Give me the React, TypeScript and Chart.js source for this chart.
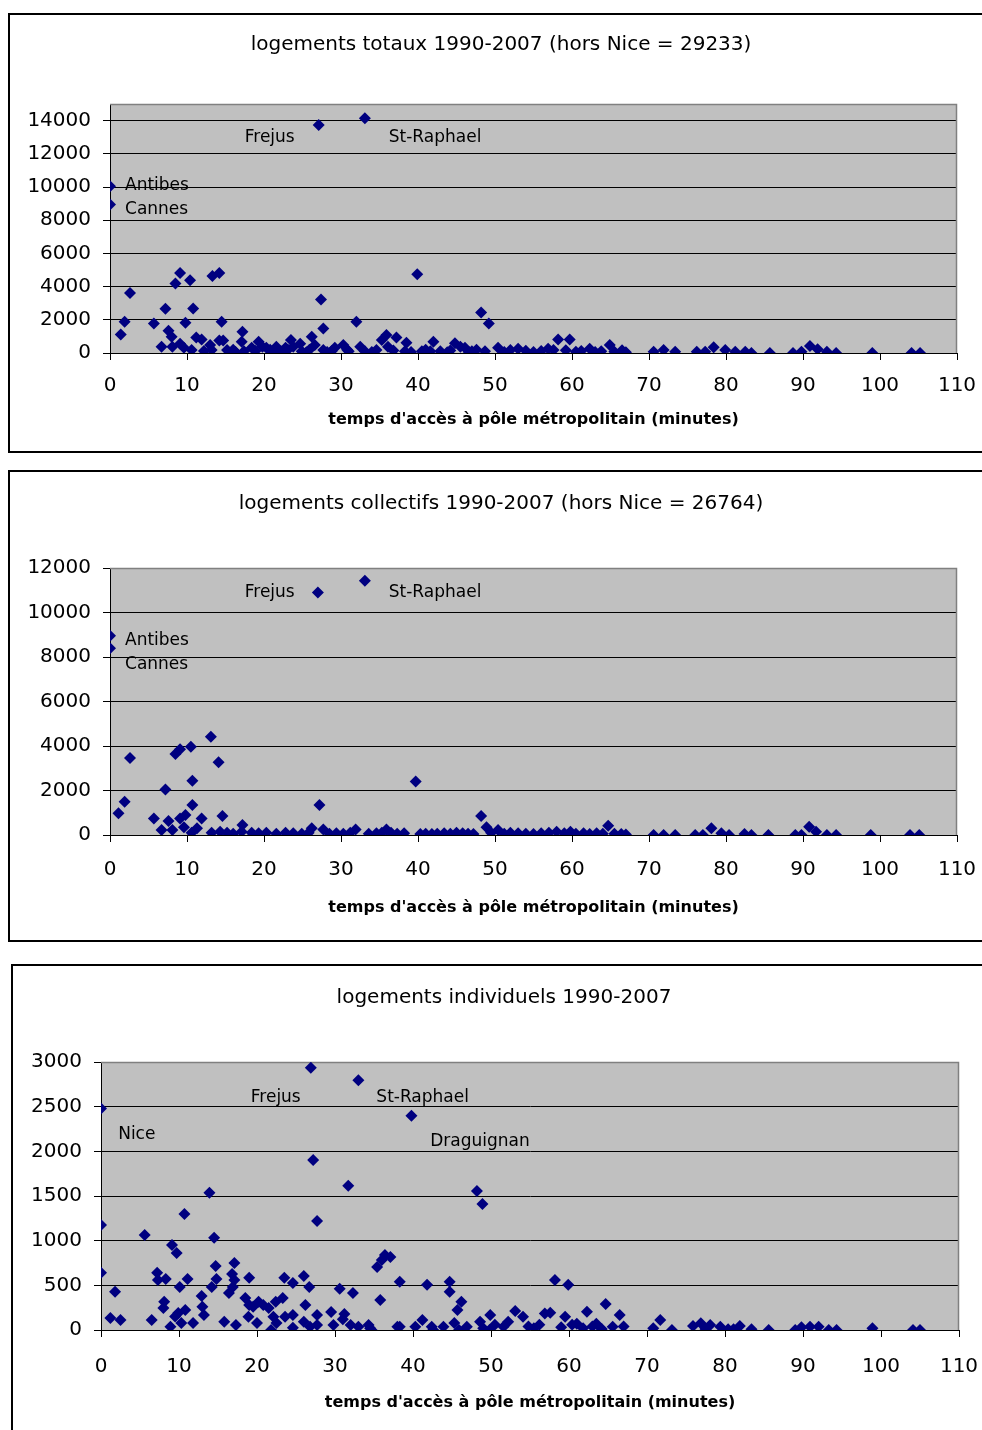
import React, { useEffect, useRef } from "react";
import { Chart, registerables } from "chart.js";

Chart.register(...registerables);

const FONT = "'DejaVu Sans', 'Liberation Sans', Arial, sans-serif";
const AXIS_TITLE = "temps d'accès à pôle métropolitain (minutes)";

// ---------- Chart 1 : logements totaux ----------
const totauxTitle = "logements totaux 1990-2007 (hors Nice = 29233)";
const totauxYTicks = [0, 2000, 4000, 6000, 8000, 10000, 12000, 14000];
const totauxX = [
  0, 0, 1.4, 1.9, 2.6, 5.7, 6.7, 7.2, 7.6, 8.0, 8.1, 8.5, 9.1, 9.1, 9.8, 9.6, 10.4, 10.6, 10.8, 11.2,
  11.9, 12.2, 13.0, 13.2, 13.3, 14.2, 14.5, 14.2, 14.7, 15.2, 16.0, 16.3, 17.2, 17.1, 17.4, 18.4, 18.9, 19.3, 19.8, 20.3,
  20.8, 21.0, 21.6, 22.2, 22.8, 23.1, 23.5, 23.8, 24.7, 24.9, 25.5, 25.9, 26.2, 26.6, 27.1, 27.4, 27.7, 27.7, 28.2, 28.8,
  29.2, 30.3, 30.8, 31.0, 32.0, 32.5, 33.1, 33.1, 34.0, 34.6, 35.3, 35.9, 36.1, 36.8, 37.2, 38.5, 38.3, 39.1, 39.9, 40.5,
  41.0, 41.6, 42.0, 42.9, 43.8, 44.2, 44.8, 45.5, 46.1, 46.6, 47.0, 47.6, 48.2, 49.2, 48.7, 50.4, 51.2, 52.0, 53.0, 54.0,
  55.0, 56.0, 56.9, 57.6, 58.2, 59.7, 59.2, 60.5, 61.2, 62.3, 63.0, 63.8, 64.9, 65.5, 66.5, 67.0, 70.6, 71.9, 73.4, 76.2,
  77.3, 78.4, 79.9, 81.2, 82.5, 83.3, 85.7, 88.7, 89.8, 90.9, 91.9, 93.1, 94.3, 99.0, 104.1, 105.2,
];
const totauxY = [
  10050, 8950, 1120, 1880, 3620, 1780, 380, 2660, 1340, 980, 380, 4180, 4820, 560, 1820, 320, 4380, 180, 2680, 940,
  820, 120, 480, 180, 4640, 4820, 1880, 760, 760, 180, 200, 60, 1280, 680, 100, 320, 120, 680, 380, 320,
  200, 60, 380, 100, 320, 200, 780, 380, 560, 100, 40, 200, 980, 480, 13740, 3220, 1480, 180, 60, 120,
  320, 480, 200, 100, 1880, 380, 14140, 100, 60, 180, 780, 1080, 380, 150, 940, 620, 100, 60, 4740, 100,
  200, 100, 680, 100, 40, 150, 580, 380, 320, 60, 100, 200, 2440, 1780, 100, 320, 60, 180, 250, 140,
  60, 120, 260, 180, 820, 820, 160, 80, 120, 260, 60, 100, 480, 80, 160, 40, 80, 180, 80, 80,
  80, 340, 180, 80, 80, 0, 0, 0, 80, 420, 230, 80, 0, 0, 0, 0,
];
const totauxLabels = ["Frejus", "St-Raphael", "Antibes", "Cannes"];
const totauxLabelX = [17.5, 36.2, 1.95, 1.95];
const totauxLabelY = [12980, 12980, 10095, 8653];

// ---------- Chart 2 : logements collectifs ----------
const collectifsTitle = "logements collectifs 1990-2007 (hors Nice = 26764)";
const collectifsYTicks = [0, 2000, 4000, 6000, 8000, 10000, 12000];
const collectifsX = [
  0, 0, 1.1, 1.9, 2.6, 5.7, 6.7, 7.2, 7.6, 8.1, 8.5, 9.1, 9.1, 9.8, 9.6, 10.5, 10.6, 10.7, 10.7, 11.3,
  11.9, 13.1, 13.2, 14.1, 14.6, 14.3, 15.2, 16.0, 17.2, 17.1, 18.4, 19.3, 20.3, 21.6, 22.8, 23.8, 24.9, 25.8, 26.2, 27.0,
  27.2, 27.7, 28.5, 29.4, 30.3, 31.2, 31.9, 33.1, 33.6, 34.6, 35.3, 35.9, 36.5, 37.3, 38.2, 39.7, 40.3, 41.0, 41.8, 42.5,
  43.4, 44.2, 45.0, 45.8, 46.5, 47.2, 48.2, 48.9, 49.5, 50.4, 51.2, 52.0, 53.0, 54.0, 55.0, 56.0, 57.0, 58.0, 59.0, 59.8,
  60.5, 61.5, 62.3, 63.2, 64.0, 64.7, 65.5, 66.4, 67.0, 70.6, 71.9, 73.4, 76.0, 77.0, 78.1, 79.4, 80.4, 82.4, 83.3, 85.5,
  89.0, 89.8, 90.8, 91.7, 93.1, 94.3, 98.8, 103.9, 105.1,
];
const collectifsY = [
  8950, 8390, 975, 1500, 3460, 740, 225, 2050, 630, 225, 3640, 3850, 740, 900, 350, 3970, 100, 2440, 1350, 300,
  740, 4420, 100, 3270, 850, 150, 100, 60, 450, 150, 100, 80, 100, 60, 100, 80, 60, 100, 300, 10900,
  1350, 250, 60, 80, 60, 100, 250, 11430, 60, 80, 100, 250, 100, 60, 80, 2400, 40, 60, 40, 60,
  80, 60, 100, 80, 60, 40, 850, 350, 100, 225, 60, 100, 80, 60, 40, 80, 100, 150, 80, 150,
  60, 80, 40, 80, 60, 420, 60, 40, 20, 0, 0, 0, 0, 0, 300, 80, 0, 50, 0, 0,
  0, 0, 375, 150, 0, 0, 0, 0, 0,
];
const collectifsLabels = ["Frejus", "St-Raphael", "Antibes", "Cannes"];
const collectifsLabelX = [17.5, 36.2, 1.95, 1.95];
const collectifsLabelY = [10875, 10875, 8718, 7640];

// ---------- Chart 3 : logements individuels ----------
const individuelsTitle = "logements individuels 1990-2007";
const individuelsYTicks = [0, 500, 1000, 1500, 2000, 2500, 3000];
const individuelsX = [
  0, 0, 0, 1.2, 1.8, 2.5, 5.6, 6.5, 7.2, 7.3, 8.3, 8.1, 8.0, 8.9, 9.1, 9.7, 10.1, 9.9, 9.5, 10.3,
  10.7, 11.1, 10.8, 11.8, 12.9, 13.0, 13.2, 13.9, 14.2, 14.5, 14.7, 14.8, 15.8, 16.4, 16.8, 17.1, 17.1, 16.9, 17.3, 18.5,
  19.0, 18.9, 19.0, 19.5, 20.0, 20.2, 20.8, 21.5, 21.8, 22.1, 22.4, 23.3, 23.5, 22.5, 23.6, 24.6, 24.6, 24.6, 26.0, 26.2,
  26.7, 26.0, 26.9, 27.2, 27.7, 27.7, 27.7, 26.8, 29.5, 29.8, 30.6, 31.2, 31.0, 31.7, 32.0, 32.3, 33.0, 33.0, 34.3, 34.5,
  34.7, 35.4, 35.8, 36.0, 36.4, 37.1, 38.0, 38.3, 38.3, 39.8, 40.3, 41.2, 41.8, 42.4, 42.6, 43.9, 44.7, 44.7, 45.3, 45.9,
  45.7, 46.2, 46.9, 48.2, 48.9, 48.6, 49.9, 49.0, 49.8, 50.5, 51.6, 52.2, 53.1, 54.1, 54.8, 55.5, 56.2, 56.9, 57.6, 58.2,
  59.9, 59.5, 59.0, 60.4, 61.0, 61.8, 62.3, 63.0, 63.5, 64.2, 64.7, 65.6, 66.5, 67.0, 70.8, 71.7, 73.2, 75.9, 76.9, 77.5,
  78.1, 79.4, 80.4, 81.1, 81.9, 83.4, 85.6, 89.0, 89.8, 90.9, 92.0, 93.3, 94.3, 98.9, 104.1, 105.0,
];
const individuelsY = [
  2480, 1175, 641, 134, 429, 112, 1063, 112, 641, 560, 570, 317, 246, 37, 951, 861, 481, 190, 150, 78,
  1298, 570, 224, 78, 380, 261, 168, 1537, 481, 1033, 716, 570, 93, 414, 627, 750, 560, 481, 56, 358,
  585, 149, 280, 261, 78, 317, 280, 246, 0, 149, 317, 358, 585, 78, 149, 525, 168, 25, 604, 280,
  481, 93, 2936, 1902, 1220, 168, 56, 37, 201, 56, 462, 179, 120, 1615, 56, 414, 2797, 37, 56, 19,
  0, 705, 336, 783, 839, 816, 37, 541, 37, 2399, 37, 112, 507, 37, 0, 37, 541, 429, 78, 0,
  224, 317, 37, 1555, 1410, 93, 168, 19, 0, 60, 37, 93, 213, 149, 40, 20, 60, 186, 194, 560,
  507, 149, 30, 60, 70, 20, 205, 40, 70, 10, 291, 37, 168, 40, 19, 112, 0, 45, 75, 10,
  56, 37, 8, 8, 45, 8, 0, 0, 30, 37, 37, 0, 0, 19, 0, 0,
];
const individuelsLabels = ["Frejus", "St-Raphael", "Nice", "Draguignan"];
const individuelsLabelX = [19.2, 35.3, 2.2, 42.2];
const individuelsLabelY = [2607, 2607, 2193, 2104];

type Spec = {
  title: string;
  titleY: number;
  xs: number[];
  ys: number[];
  yTicks: number[];
  labels: string[];
  labelX: number[];
  labelY: number[];
  yMax: number;
  width: number;
  height: number;
  yAxisWidth: number;
  xAxisHeight: number;
  xTickPad: number;
  xTitlePadBottom: number;
  layoutPad: { left: number; right: number; top: number; bottom: number };
};

const plotBackground = {
  id: "plotBackground",
  beforeDraw(chart: any) {
    const { ctx, chartArea } = chart;
    if (!chartArea) return;
    ctx.save();
    ctx.fillStyle = "#C0C0C0";
    ctx.fillRect(chartArea.left, chartArea.top, chartArea.right - chartArea.left, chartArea.bottom - chartArea.top);
    ctx.restore();
  },
  beforeDatasetsDraw(chart: any) {
    const { ctx, chartArea } = chart;
    ctx.save();
    ctx.strokeStyle = "#808080";
    ctx.lineWidth = 1.5;
    ctx.beginPath();
    ctx.moveTo(chartArea.left, chartArea.top + 0.5);
    ctx.lineTo(chartArea.right - 0.5, chartArea.top + 0.5);
    ctx.lineTo(chartArea.right - 0.5, chartArea.bottom);
    ctx.stroke();
    ctx.restore();
  },
};

const chartTitleText = {
  id: "chartTitleText",
  afterDraw(chart: any, _args: any, opts: any) {
    const { ctx } = chart;
    ctx.save();
    ctx.fillStyle = "#000";
    ctx.font = `20px ${FONT}`;
    ctx.textAlign = "center";
    ctx.textBaseline = "middle";
    ctx.fillText(opts.text, chart.width / 2, opts.y);
    ctx.restore();
  },
};

const cityLabels = {
  id: "cityLabels",
  beforeDatasetsDraw(chart: any, _args: any, opts: any) {
    const { ctx, scales } = chart;
    const names: string[] = opts.names || [];
    ctx.save();
    ctx.fillStyle = "#000";
    ctx.font = `17px ${FONT}`;
    ctx.textAlign = "left";
    ctx.textBaseline = "middle";
    names.forEach((n, i) => {
      ctx.fillText(n, scales.x.getPixelForValue(opts.xs[i]), scales.y.getPixelForValue(opts.ys[i]));
    });
    ctx.restore();
  },
};

function ScatterBox({ spec, style }: { spec: Spec; style: React.CSSProperties }) {
  const ref = useRef<HTMLCanvasElement | null>(null);
  useEffect(() => {
    if (!ref.current) return;
    const data = spec.xs.map((x, i) => ({ x, y: spec.ys[i] }));
    const chart = new Chart(ref.current, {
      type: "scatter",
      data: {
        datasets: [
          {
            data,
            pointStyle: "rectRot",
            pointRadius: 6,
            pointHoverRadius: 6,
            backgroundColor: "#000080",
            borderColor: "#000080",
            borderWidth: 0,
          },
        ],
      },
      options: {
        animation: false,
        responsive: false,
        devicePixelRatio: 1,
        layout: { padding: spec.layoutPad },
        plugins: {
          legend: { display: false },
          tooltip: { enabled: false },
          title: { display: false },
          chartTitleText: { text: spec.title, y: spec.titleY },
          cityLabels: { names: spec.labels, xs: spec.labelX, ys: spec.labelY },
        } as any,
        scales: {
          x: {
            type: "linear",
            min: 0,
            max: 110,
            ticks: {
              stepSize: 10,
              color: "#000",
              font: { family: FONT, size: 20 },
              padding: spec.xTickPad,
              maxRotation: 0,
              autoSkip: false,
              callback: (v: any) => String(v),
            },
            grid: { drawOnChartArea: false, drawTicks: true, tickLength: 7, color: "#000", lineWidth: 1 },
            border: { display: true, color: "#000", width: 1 },
            title: {
              display: true,
              text: AXIS_TITLE,
              color: "#000",
              font: { family: FONT, size: 16, weight: "bold" as any, lineHeight: 1.2 },
              padding: { top: 0, bottom: spec.xTitlePadBottom },
            },
            afterFit: (s: any) => {
              s.height = spec.xAxisHeight;
              s.paddingLeft = 0;
              s.paddingRight = 0;
            },
          },
          y: {
            type: "linear",
            min: 0,
            max: spec.yMax,
            afterBuildTicks: (s: any) => {
              s.ticks = spec.yTicks.map((v) => ({ value: v }));
            },
            ticks: {
              autoSkip: false,
              color: "#000",
              font: { family: FONT, size: 20 },
              padding: 12,
              callback: (v: any) => String(v),
            },
            grid: { drawTicks: true, tickLength: 7, color: "#000", lineWidth: 1 },
            border: { display: true, color: "#000", width: 1 },
            afterFit: (s: any) => {
              s.width = spec.yAxisWidth;
              s.paddingTop = 0;
              s.paddingBottom = 0;
            },
          },
        },
      },
      plugins: [plotBackground, chartTitleText, cityLabels],
    });
    return () => chart.destroy();
  }, [spec]);
  return (
    <div style={{ position: "absolute", border: "2px solid #000", background: "#fff", ...style }}>
      <canvas ref={ref} width={spec.width} height={spec.height} style={{ display: "block", width: spec.width, height: spec.height }} />
    </div>
  );
}

const spec1: Spec = {
  title: totauxTitle,
  titleY: 30,
  xs: totauxX,
  ys: totauxY,
  yTicks: totauxYTicks,
  labels: totauxLabels,
  labelX: totauxLabelX,
  labelY: totauxLabelY,
  yMax: 15000,
  width: 982,
  height: 436,
  yAxisWidth: 100,
  xAxisHeight: 85,
  xTickPad: 14,
  xTitlePadBottom: 9,
  layoutPad: { left: 0, right: 35, top: 89, bottom: 13 },
};

const spec2: Spec = {
  title: collectifsTitle,
  titleY: 32,
  xs: collectifsX,
  ys: collectifsY,
  yTicks: collectifsYTicks,
  labels: collectifsLabels,
  labelX: collectifsLabelX,
  labelY: collectifsLabelY,
  yMax: 12000,
  width: 982,
  height: 468,
  yAxisWidth: 100,
  xAxisHeight: 90,
  xTickPad: 16,
  xTitlePadBottom: 8,
  layoutPad: { left: 0, right: 35, top: 96, bottom: 15 },
};

const spec3: Spec = {
  title: individuelsTitle,
  titleY: 32,
  xs: individuelsX,
  ys: individuelsY,
  yTicks: individuelsYTicks,
  labels: individuelsLabels,
  labelX: individuelsLabelX,
  labelY: individuelsLabelY,
  yMax: 3000,
  width: 982,
  height: 480,
  yAxisWidth: 88,
  xAxisHeight: 90,
  xTickPad: 18,
  xTitlePadBottom: 8,
  layoutPad: { left: 0, right: 36, top: 96, bottom: 26 },
};

export default function App() {
  return (
    <div style={{ position: "absolute", left: 0, top: 0, width: 982, height: 1430, overflow: "hidden", background: "#fff" }}>
      <ScatterBox spec={spec1} style={{ left: 8, top: 13 }} />
      <ScatterBox spec={spec2} style={{ left: 8, top: 470 }} />
      <ScatterBox spec={spec3} style={{ left: 11, top: 964 }} />
    </div>
  );
}
